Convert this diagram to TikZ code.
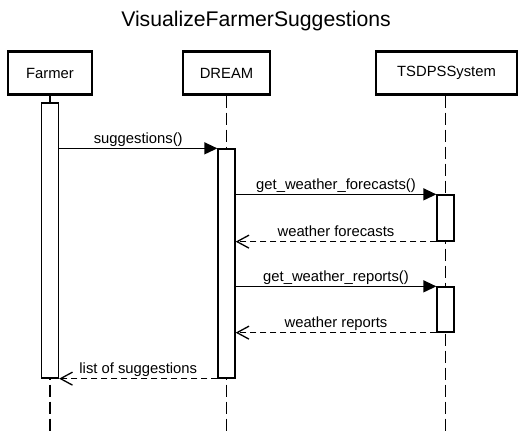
\documentclass[tikz,border=0pt]{standalone}
\usepackage{fontspec}
\setmainfont{Liberation Sans}
\usetikzlibrary{arrows.meta}
\begin{document}
\begin{tikzpicture}[x=1pt,y=-1pt,
  lbl/.style={font=\fontsize{14.8}{17}\selectfont},
  actorbox/.style={draw, line width=2.4pt, fill=white, minimum height=43pt, inner sep=0pt, lbl},
  lifeline/.style={line width=1.3pt, dash pattern=on 12pt off 5pt},
  actbox/.style={draw, line width=1.3pt, fill=white, minimum width=17pt, inner sep=0pt},
  callmsg/.style={line width=1.3pt, -{Triangle[length=13pt,width=12pt]}},
  retmsg/.style={line width=1.3pt, dash pattern=on 6pt off 4pt, -{Straight Barb[length=12pt,width=13pt,line width=1.3pt]}},
  msglbl/.style={lbl, anchor=base, yshift=5pt, inner sep=0pt}
]
\useasboundingbox (0,0) rectangle (521,435);
\node[font=\fontsize{21.2}{25}\selectfont, anchor=base] (title) at (256,27) {VisualizeFarmerSuggestions};

\node[actorbox, minimum width=84pt] (farmer) at (50,73) {Farmer};
\node[actorbox, minimum width=87pt] (dream) at (226.5,73) {DREAM};
\node[actorbox, minimum width=141pt] (tsdps) at (446.5,73) {TSDPSSystem};

\coordinate (fend) at (50,432);
\coordinate (dend) at (226.5,432);
\coordinate (tend) at (445.5,432);
\draw[lifeline] (farmer.south) -- (fend);
\draw[lifeline] (dream.south) -- (dend);
\draw[lifeline] (tsdps.south -| tend) -- (tend);

\node[actbox, minimum height=275pt] (fa) at (50,240.5) {};
\node[actbox, minimum height=229pt] (da) at (226.5,263.5) {};
\node[actbox, minimum height=46pt] (t1) at (445.5,218) {};
\node[actbox, minimum height=45pt] (t2) at (445.5,309.5) {};

\draw[callmsg] (fa.east |- da.north) -- node[msglbl] {suggestions()} (da.north west);
\draw[callmsg] (da.east |- t1.north) -- node[msglbl] {get\_weather\_forecasts()} (t1.north west);
\draw[retmsg] (t1.south west) -- node[msglbl] {weather forecasts} (da.east |- t1.south);
\draw[callmsg] (da.east |- t2.north) -- node[msglbl] {get\_weather\_reports()} (t2.north west);
\draw[retmsg] (t2.south west) -- node[msglbl] {weather reports} (da.east |- t2.south);
\draw[retmsg] (da.south west) -- node[msglbl] {list of suggestions} (fa.south east);
\end{tikzpicture}
\end{document}
